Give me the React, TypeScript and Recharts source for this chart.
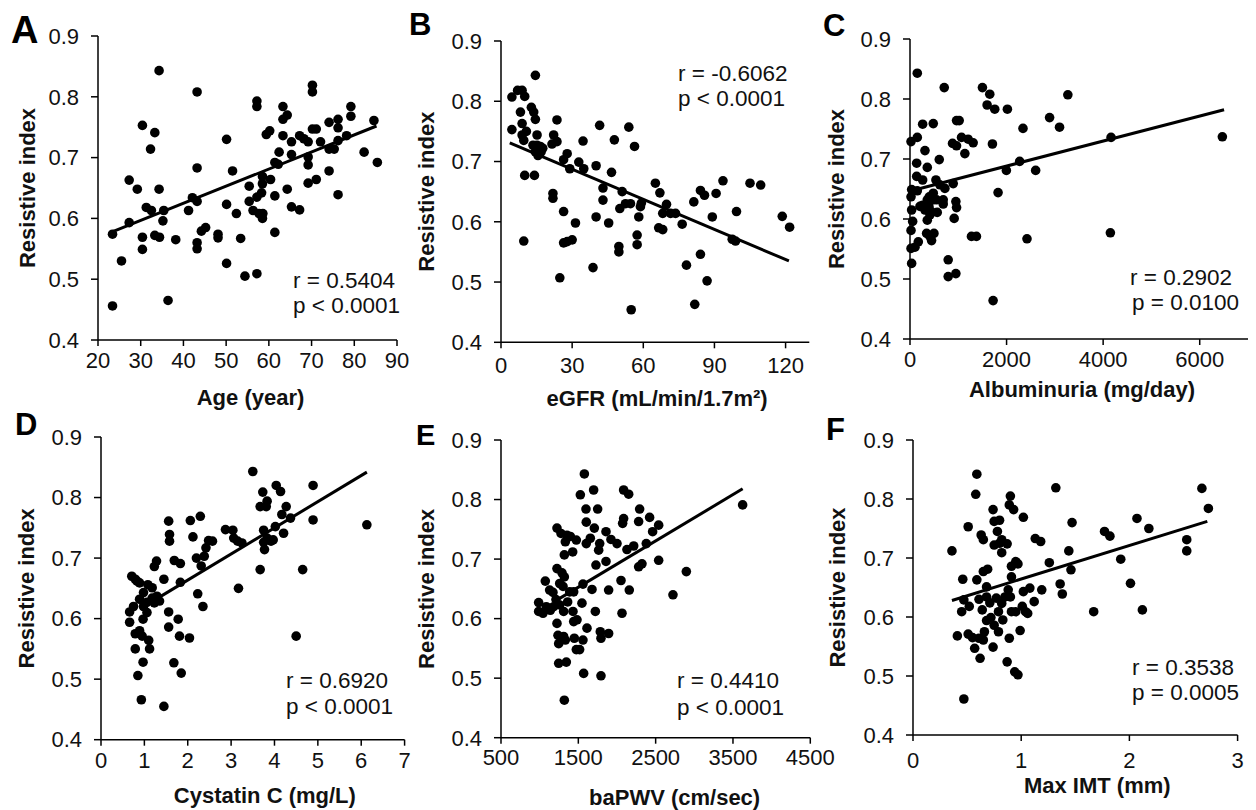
import { ReferenceLine, Scatter, ScatterChart, XAxis, YAxis } from "recharts";

const FONT = "'Liberation Sans', Arial, Helvetica, sans-serif";
const INK = "#111";

type Pt = [number, number];

const riTicks = [0.4, 0.5, 0.6, 0.7, 0.8, 0.9];

// A: age
const ageTicks = [20, 30, 40, 50, 60, 70, 80, 90];
const agePoints: Pt[] = [
  [23.4, 0.456], [23.4, 0.574], [25.5, 0.53], [27.3, 0.593], [27.3, 0.663], [29.2, 0.648], [30.4, 0.753],
  [30.4, 0.569], [30.4, 0.549], [32.3, 0.714], [31.3, 0.618], [32.5, 0.613], [33.3, 0.741], [34.3, 0.843],
  [34.3, 0.648], [33.3, 0.572], [34.4, 0.569], [35.4, 0.613], [35.2, 0.596], [36.4, 0.465], [38.2, 0.565],
  [41.2, 0.613], [42.1, 0.634], [43.2, 0.808], [43.2, 0.683], [43.2, 0.628], [43.2, 0.56], [43.2, 0.55],
  [44.2, 0.579], [45.2, 0.585], [48.1, 0.574], [48.1, 0.568], [50.1, 0.73], [50.1, 0.623], [50.1, 0.526],
  [51.5, 0.678], [52.4, 0.608], [53.4, 0.567], [54.4, 0.505], [55.4, 0.653], [55.4, 0.628], [56.3, 0.613],
  [57.2, 0.793], [57.2, 0.784], [57.2, 0.635], [57.2, 0.509], [57.7, 0.608], [58.3, 0.642], [58.5, 0.669],
  [58.5, 0.657], [58.5, 0.6], [58.6, 0.608], [59.4, 0.738], [60.2, 0.744], [60.4, 0.664], [61.4, 0.637],
  [61.4, 0.577], [61.4, 0.692], [62.4, 0.709], [62.2, 0.689], [63.3, 0.784], [63.3, 0.763], [64.3, 0.77],
  [63.3, 0.736], [64.3, 0.648], [65.3, 0.726], [65.3, 0.705], [65.3, 0.619], [67.2, 0.614], [67.2, 0.736],
  [68.2, 0.731], [69.2, 0.726], [69.2, 0.701], [69.2, 0.688], [69.2, 0.658], [70.2, 0.819], [70.2, 0.808],
  [70.2, 0.747], [71.1, 0.747], [71.1, 0.664], [72.1, 0.726], [74.1, 0.758], [74.1, 0.714], [74.1, 0.678],
  [75.3, 0.714], [76.2, 0.763], [76.2, 0.749], [76.2, 0.728], [76.2, 0.639], [78.2, 0.736], [79.2, 0.784],
  [79.2, 0.768], [82.3, 0.709], [84.6, 0.761], [85.4, 0.692],
];
const ageFit: Pt[] = [[23.3, 0.578], [85.2, 0.752]];

// B: eGFR
const egfrTicks = [0, 30, 60, 90, 120];
const egfrPoints: Pt[] = [
  [4.6, 0.807], [4.6, 0.753], [7.0, 0.818], [8.9, 0.818], [10.0, 0.808], [8.2, 0.782], [8.9, 0.763],
  [8.9, 0.744], [10.7, 0.75], [9.6, 0.735], [10.0, 0.677], [9.6, 0.568], [12.8, 0.79], [13.8, 0.782],
  [14.5, 0.77], [14.5, 0.843], [15.2, 0.744], [13.5, 0.727], [15.2, 0.727], [16.6, 0.725], [14.5, 0.716],
  [15.6, 0.71], [16.9, 0.716], [17.6, 0.722], [14.1, 0.677], [22.2, 0.744], [21.5, 0.729], [23.6, 0.769],
  [23.6, 0.733], [21.9, 0.647], [21.9, 0.639], [24.8, 0.507], [26.4, 0.703], [26.4, 0.617], [26.4, 0.565],
  [27.9, 0.713], [27.9, 0.567], [29.0, 0.688], [30.0, 0.57], [31.4, 0.598], [32.8, 0.699], [34.9, 0.688],
  [34.6, 0.734], [38.8, 0.524], [40.1, 0.608], [40.1, 0.693], [41.6, 0.76], [43.0, 0.656], [43.0, 0.636],
  [45.4, 0.598], [46.6, 0.682], [47.8, 0.736], [49.7, 0.559], [49.7, 0.55], [50.1, 0.622], [51.1, 0.65],
  [52.5, 0.63], [53.9, 0.757], [54.6, 0.63], [54.9, 0.454], [56.3, 0.725], [57.4, 0.578], [57.4, 0.562],
  [58.1, 0.608], [58.8, 0.625], [59.2, 0.631], [65.1, 0.664], [67.0, 0.648], [66.5, 0.59], [68.2, 0.587],
  [68.2, 0.614], [69.8, 0.629], [71.5, 0.614], [73.6, 0.614], [76.4, 0.596], [78.2, 0.528], [81.3, 0.633],
  [81.7, 0.463], [84.1, 0.652], [85.8, 0.644], [84.1, 0.546], [86.9, 0.502], [89.1, 0.608], [90.7, 0.647],
  [93.6, 0.668], [97.5, 0.571], [98.9, 0.568], [99.3, 0.617], [105.0, 0.664], [109.5, 0.661],
  [118.6, 0.609], [121.7, 0.591],
];
const egfrFit: Pt[] = [[3.7, 0.731], [121.4, 0.535]];

// C: albuminuria
const albTicks = [0, 2000, 4000, 6000];
const albPoints: Pt[] = [
  [34, 0.526], [21, 0.551], [21, 0.581], [55, 0.596], [34, 0.615], [21, 0.637], [34, 0.649], [21, 0.729],
  [151, 0.843], [151, 0.736], [138, 0.693], [138, 0.671], [151, 0.647], [172, 0.562], [103, 0.553],
  [262, 0.758], [262, 0.665], [310, 0.714], [358, 0.686], [206, 0.621], [262, 0.623], [310, 0.615],
  [358, 0.632], [392, 0.621], [413, 0.607], [358, 0.598], [447, 0.612], [482, 0.632], [482, 0.643],
  [399, 0.637], [551, 0.632], [310, 0.623], [344, 0.576], [413, 0.571], [447, 0.564], [496, 0.576],
  [482, 0.759], [537, 0.665], [564, 0.611], [606, 0.699], [619, 0.657], [709, 0.819], [723, 0.651],
  [688, 0.632], [688, 0.625], [791, 0.532], [791, 0.504], [895, 0.659], [881, 0.726], [915, 0.601],
  [950, 0.629], [964, 0.619], [950, 0.509], [964, 0.722], [964, 0.764], [1019, 0.764], [1067, 0.736],
  [1136, 0.709], [1204, 0.733], [1273, 0.571], [1308, 0.727], [1376, 0.571], [1500, 0.819], [1652, 0.808],
  [1597, 0.79], [1755, 0.783], [1707, 0.725], [1824, 0.644], [1721, 0.464], [2017, 0.783], [1996, 0.681],
  [2271, 0.696], [2340, 0.751], [2423, 0.567], [2602, 0.681], [2891, 0.769], [3097, 0.753], [3269, 0.807],
  [4164, 0.736], [4150, 0.577], [6469, 0.737],
];
const albFit: Pt[] = [[69, 0.648], [6504, 0.782]];

// D: cystatin C
const cysTicks = [0, 1, 2, 3, 4, 5, 6, 7];
const cysPoints: Pt[] = [
  [0.66, 0.611], [0.66, 0.594], [0.71, 0.67], [0.75, 0.62], [0.79, 0.665], [0.83, 0.662], [0.89, 0.659],
  [0.79, 0.575], [0.79, 0.55], [0.85, 0.506], [0.93, 0.466], [0.97, 0.528], [0.89, 0.58], [0.95, 0.571],
  [0.98, 0.643], [0.89, 0.632], [0.98, 0.62], [0.97, 0.599], [1.06, 0.627], [1.06, 0.61], [1.1, 0.564],
  [1.12, 0.55], [1.08, 0.656], [1.18, 0.651], [1.18, 0.634], [1.23, 0.626], [1.29, 0.637], [1.35, 0.629],
  [1.23, 0.686], [1.28, 0.695], [1.45, 0.665], [1.45, 0.455], [1.56, 0.761], [1.58, 0.739], [1.58, 0.728],
  [1.56, 0.611], [1.56, 0.586], [1.68, 0.527], [1.69, 0.696], [1.83, 0.691], [1.78, 0.599], [1.81, 0.571],
  [1.85, 0.51], [1.83, 0.66], [2.04, 0.568], [2.06, 0.762], [2.12, 0.735], [2.23, 0.641], [2.2, 0.7],
  [2.29, 0.769], [2.31, 0.687], [2.35, 0.62], [2.38, 0.703], [2.42, 0.717], [2.48, 0.729], [2.57, 0.728],
  [2.87, 0.747], [3.04, 0.746], [3.06, 0.733], [3.15, 0.728], [3.25, 0.725], [3.17, 0.65], [3.5, 0.843],
  [3.67, 0.681], [3.67, 0.785], [3.73, 0.809], [3.81, 0.785], [3.83, 0.794], [3.75, 0.746], [3.77, 0.714],
  [3.75, 0.726], [3.83, 0.733], [3.92, 0.728], [3.97, 0.73], [4.04, 0.82], [4.14, 0.81], [4.02, 0.752],
  [4.17, 0.772], [4.27, 0.785], [4.21, 0.741], [4.37, 0.766], [4.5, 0.571], [4.65, 0.681], [4.89, 0.82],
  [4.89, 0.763], [6.13, 0.755],
];
const cysFit: Pt[] = [[1.29, 0.633], [6.13, 0.842]];

// E: baPWV
const pwvTicks = [500, 1500, 2500, 3500, 4500];
const pwvPoints: Pt[] = [
  [987, 0.612], [987, 0.627], [1043, 0.609], [1073, 0.663], [1086, 0.62], [1129, 0.648], [1138, 0.614],
  [1172, 0.644], [1181, 0.62], [1211, 0.632], [1224, 0.752], [1224, 0.684], [1224, 0.592], [1237, 0.572],
  [1246, 0.558], [1246, 0.525], [1259, 0.659], [1259, 0.623], [1276, 0.743], [1289, 0.677], [1302, 0.654],
  [1310, 0.612], [1310, 0.57], [1319, 0.463], [1319, 0.67], [1332, 0.729], [1353, 0.74], [1319, 0.707],
  [1345, 0.527], [1332, 0.564], [1362, 0.628], [1388, 0.645], [1397, 0.738], [1427, 0.712], [1431, 0.612],
  [1440, 0.645], [1440, 0.595], [1448, 0.567], [1474, 0.732], [1474, 0.548], [1483, 0.598], [1517, 0.548],
  [1526, 0.808], [1547, 0.626], [1560, 0.564], [1569, 0.508], [1578, 0.843], [1599, 0.784], [1603, 0.762],
  [1603, 0.726], [1560, 0.658], [1612, 0.584], [1655, 0.735], [1677, 0.649], [1698, 0.816], [1707, 0.752],
  [1720, 0.612], [1728, 0.69], [1750, 0.784], [1763, 0.715], [1776, 0.726], [1784, 0.578], [1793, 0.567],
  [1793, 0.504], [1858, 0.746], [1858, 0.696], [1892, 0.648], [1892, 0.575], [1922, 0.733], [2000, 0.726],
  [2052, 0.664], [2065, 0.609], [2086, 0.816], [2086, 0.768], [2073, 0.76], [2151, 0.809], [2129, 0.716],
  [2159, 0.648], [2216, 0.722], [2280, 0.763], [2293, 0.784], [2280, 0.687], [2323, 0.692], [2379, 0.726],
  [2422, 0.77], [2461, 0.746], [2539, 0.757], [2539, 0.698], [2724, 0.64], [2897, 0.679], [3625, 0.791],
];
const pwvFit: Pt[] = [[1259, 0.634], [3625, 0.818]];

// F: max IMT
const imtTicks = [0, 1, 2, 3];
const imtPoints: Pt[] = [
  [0.36, 0.712], [0.41, 0.568], [0.46, 0.664], [0.45, 0.609], [0.47, 0.629], [0.47, 0.461], [0.51, 0.753],
  [0.52, 0.618], [0.51, 0.571], [0.55, 0.565], [0.57, 0.547], [0.59, 0.663], [0.59, 0.842], [0.58, 0.808],
  [0.61, 0.63], [0.61, 0.564], [0.62, 0.53], [0.63, 0.739], [0.65, 0.731], [0.64, 0.612], [0.65, 0.561],
  [0.65, 0.677], [0.69, 0.681], [0.68, 0.651], [0.66, 0.575], [0.68, 0.634], [0.68, 0.594], [0.71, 0.624],
  [0.72, 0.599], [0.74, 0.782], [0.74, 0.549], [0.75, 0.762], [0.75, 0.722], [0.75, 0.586], [0.77, 0.632],
  [0.78, 0.745], [0.79, 0.609], [0.79, 0.575], [0.8, 0.764], [0.8, 0.725], [0.82, 0.709], [0.82, 0.731],
  [0.82, 0.623], [0.83, 0.595], [0.85, 0.634], [0.87, 0.724], [0.87, 0.524], [0.88, 0.646], [0.89, 0.564],
  [0.9, 0.805], [0.89, 0.79], [0.91, 0.686], [0.91, 0.668], [0.9, 0.634], [0.91, 0.609], [0.93, 0.782],
  [0.94, 0.507], [0.97, 0.502], [0.95, 0.694], [0.97, 0.69], [0.95, 0.609], [0.99, 0.577], [1.02, 0.769],
  [1.01, 0.618], [1.02, 0.643], [1.04, 0.609], [1.06, 0.606], [1.08, 0.649], [1.12, 0.626], [1.13, 0.733],
  [1.18, 0.728], [1.19, 0.646], [1.26, 0.692], [1.32, 0.819], [1.36, 0.656], [1.38, 0.639], [1.44, 0.712],
  [1.46, 0.68], [1.47, 0.76], [1.67, 0.609], [1.77, 0.745], [1.82, 0.737], [1.92, 0.698], [2.01, 0.657],
  [2.07, 0.767], [2.12, 0.612], [2.18, 0.75], [2.53, 0.731], [2.53, 0.712], [2.67, 0.818], [2.73, 0.784],
];
const imtFit: Pt[] = [[0.36, 0.628], [2.72, 0.762]];

const Dot = (props: any) => <circle cx={props.cx} cy={props.cy} r={4.8} fill="#000" />;

type PanelProps = {
  points: Pt[];
  fit: Pt[];
  xDomain: [number, number];
  xTicks: number[];
  xLabel: string;
  box: { left: number; right: number; top: number; bottom: number };
  yLabelX: number;
  xLabelBase: number;
  xLabelDx: number;
  xTickGap: number;
};

function Panel(p: PanelProps) {
  const yw = 98;
  const mt = 12;
  const mr = 30;
  const mb = 8;
  const plotW = p.box.right - p.box.left;
  const plotH = p.box.bottom - p.box.top;
  const xh = p.xLabelBase - p.box.bottom;
  const data = p.points.map(([x, y]) => ({ x, y }));
  const line = { stroke: "#000", strokeWidth: 1.5 };
  return (
    <div style={{ position: "absolute", left: p.box.left - yw, top: p.box.top - mt }}>
      <ScatterChart
        width={yw + plotW + mr}
        height={mt + plotH + xh + mb}
        margin={{ top: mt, right: mr, bottom: mb, left: 0 }}
      >
        <XAxis
          type="number"
          dataKey="x"
          domain={p.xDomain}
          ticks={p.xTicks}
          interval={0}
          height={xh}
          tickSize={6}
          tickMargin={p.xTickGap}
          axisLine={line}
          tickLine={line}
          tick={{ fontSize: 22, fill: INK, fontFamily: FONT }}
          label={{
            value: p.xLabel,
            position: "insideBottom",
            offset: 0,
            dx: p.xLabelDx,
            style: { fontSize: 22, fontWeight: 700, fill: INK, fontFamily: FONT },
          }}
        />
        <YAxis
          type="number"
          dataKey="y"
          domain={[0.4, 0.9]}
          ticks={riTicks}
          interval={0}
          width={yw}
          tickSize={7}
          tickMargin={12}
          tickFormatter={(v: number) => v.toFixed(1)}
          axisLine={line}
          tickLine={line}
          tick={{ fontSize: 22, fill: INK, fontFamily: FONT }}
          label={{
            value: "Resistive index",
            angle: -90,
            position: "insideLeft",
            offset: p.yLabelX - (p.box.left - yw),
            style: { textAnchor: "middle", fontSize: 22, fontWeight: 700, fill: INK, fontFamily: FONT },
          }}
        />
        <Scatter data={data} shape={Dot} isAnimationActive={false} />
        <ReferenceLine
          segment={[
            { x: p.fit[0][0], y: p.fit[0][1] },
            { x: p.fit[1][0], y: p.fit[1][1] },
          ]}
          stroke="#000"
          strokeWidth={3}
        />
      </ScatterChart>
    </div>
  );
}

const letters = [
  { t: "A", x: 11, y: 43, s: 38 },
  { t: "B", x: 409, y: 35, s: 31 },
  { t: "C", x: 823, y: 36, s: 31 },
  { t: "D", x: 15, y: 435, s: 31 },
  { t: "E", x: 416, y: 445, s: 29 },
  { t: "F", x: 826, y: 440, s: 31 },
];

const stats = [
  { t: "r = 0.5404", x: 293, y: 288 },
  { t: "p < 0.0001", x: 293, y: 313 },
  { t: "r = -0.6062", x: 678, y: 81 },
  { t: "p < 0.0001", x: 678, y: 106 },
  { t: "r = 0.2902", x: 1130, y: 285 },
  { t: "p = 0.0100", x: 1132, y: 310 },
  { t: "r = 0.6920", x: 286, y: 688 },
  { t: "p < 0.0001", x: 286, y: 714 },
  { t: "r = 0.4410", x: 677, y: 688 },
  { t: "p < 0.0001", x: 677, y: 715 },
  { t: "r = 0.3538", x: 1132, y: 675 },
  { t: "p = 0.0005", x: 1132, y: 700 },
];

export default function App() {
  return (
    <div style={{ position: "absolute", left: 0, top: 0, width: 1256, height: 810, background: "#fff", overflow: "hidden" }}>
      <Panel points={agePoints} fit={ageFit} xDomain={[20, 90]} xTicks={ageTicks} xLabel="Age (year)"
        box={{ left: 98, right: 397, top: 36, bottom: 340 }} yLabelX={27.5} xLabelBase={405} xLabelDx={3} xTickGap={6} />
      <Panel points={egfrPoints} fit={egfrFit} xDomain={[0, 130]} xTicks={egfrTicks} xLabel="eGFR (mL/min/1.7m²)"
        box={{ left: 500.7, right: 809, top: 40.7, bottom: 342 }} yLabelX={425.5} xLabelBase={406} xLabelDx={2} xTickGap={9} />
      <Panel points={albPoints} fit={albFit} xDomain={[0, 7000]} xTicks={albTicks} xLabel="Albuminuria (mg/day)"
        box={{ left: 910, right: 1248, top: 39, bottom: 339 }} yLabelX={836} xLabelBase={397} xLabelDx={3} xTickGap={6} />
      <Panel points={cysPoints} fit={cysFit} xDomain={[0, 7]} xTicks={cysTicks} xLabel="Cystatin C (mg/L)"
        box={{ left: 100.7, right: 404.3, top: 437.3, bottom: 740 }} yLabelX={25.5} xLabelBase={803} xLabelDx={12} xTickGap={7} />
      <Panel points={pwvPoints} fit={pwvFit} xDomain={[500, 4500]} xTicks={pwvTicks} xLabel="baPWV (cm/sec)"
        box={{ left: 500.7, right: 810, top: 440, bottom: 737.7 }} yLabelX={425.5} xLabelBase={805} xLabelDx={19} xTickGap={6} />
      <Panel points={imtPoints} fit={imtFit} xDomain={[0, 3]} xTicks={imtTicks} xLabel="Max IMT (mm)"
        box={{ left: 912.7, right: 1237.3, top: 440, bottom: 735 }} yLabelX={836.5} xLabelBase={793} xLabelDx={22} xTickGap={11} />
      <svg width={1256} height={810} style={{ position: "absolute", left: 0, top: 0, pointerEvents: "none" }}>
        {letters.map((l) => (
          <text key={l.t} x={l.x} y={l.y} fontSize={l.s} fontWeight={700} fontFamily={FONT} fill="#000">
            {l.t}
          </text>
        ))}
        {stats.map((s, i) => (
          <text key={i} x={s.x} y={s.y} fontSize={22.5} fontFamily={FONT} fill={INK}>
            {s.t}
          </text>
        ))}
      </svg>
    </div>
  );
}
